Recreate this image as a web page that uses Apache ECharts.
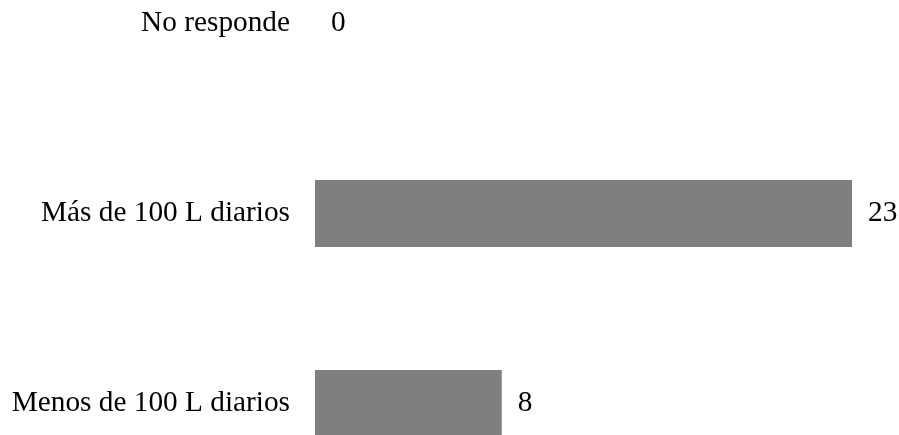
<!DOCTYPE html>
<html>
<head>
<meta charset="utf-8">
<script src="https://cdn.jsdelivr.net/npm/echarts@6/dist/echarts.min.js"></script>
<style>
  html, body { margin: 0; padding: 0; background: #ffffff; }
  #chart { width: 899px; height: 435px; }
</style>
</head>
<body>
<div id="chart"></div>
<script>
// Categories listed bottom to top, as the category axis stacks them
const categories = ['Menos de 100 L diarios', 'Más de 100 L diarios', 'No responde'];
const counts = [8, 23, 0];

const FONT = '"Liberation Serif", "Times New Roman", serif';

const chart = echarts.init(document.getElementById('chart'), null, { renderer: 'canvas' });
chart.setOption({
  animation: false,
  backgroundColor: '#ffffff',
  // Category centres sit on the grid edges (boundaryGap: false),
  // so the lowest bar may run past the bottom of the page.
  grid: { left: 315, right: 47, top: 23.5, height: 380, containLabel: false },
  xAxis: {
    type: 'value',
    min: 0,
    max: 23,
    show: false
  },
  yAxis: {
    type: 'category',
    data: categories,
    boundaryGap: false,
    axisLine: { show: false },
    axisTick: { show: false },
    splitLine: { show: false },
    axisLabel: {
      margin: 25,
      color: '#000000',
      fontFamily: FONT,
      fontSize: 29.3
    }
  },
  series: [{
    type: 'bar',
    data: counts,
    barWidth: 67,
    clip: false,
    itemStyle: { color: '#7f7f7f' },
    label: {
      show: true,
      position: 'right',
      distance: 16,
      color: '#000000',
      fontFamily: FONT,
      fontSize: 29.3
    }
  }]
});
</script>
</body>
</html>
